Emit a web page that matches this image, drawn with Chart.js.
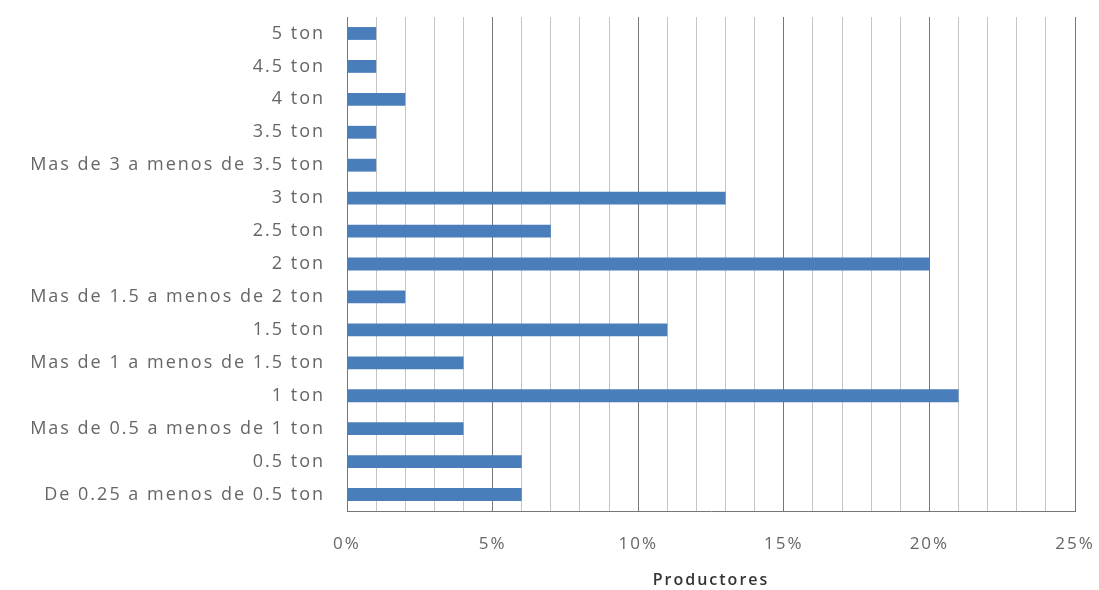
<!DOCTYPE html>
<html>
<head>
<meta charset="utf-8">
<script src="https://cdn.jsdelivr.net/npm/chart.js@4"></script>
<style>
  html, body { margin: 0; padding: 0; background: #fff; }
  #wrap { width: 1099px; height: 590px; position: relative; }
</style>
</head>
<body>
<div id="wrap"><canvas id="chart"></canvas></div>
<script>
const categories = [
  "5 ton",
  "4.5 ton",
  "4 ton",
  "3.5 ton",
  "Mas de 3 a menos de 3.5 ton",
  "3 ton",
  "2.5 ton",
  "2 ton",
  "Mas de 1.5 a menos de 2 ton",
  "1.5 ton",
  "Mas de 1 a menos de 1.5 ton",
  "1 ton",
  "Mas de 0.5 a menos de 1 ton",
  "0.5 ton",
  "De 0.25 a menos de 0.5 ton",
];
const productores = [1, 1, 2, 1, 1, 13, 7, 20, 2, 11, 4, 21, 4, 6, 6];
const xMin = 0;
const xMax = 25;
const xStep = 1;
const xTitle = "Productores";

const fontFamily = "'Open Sans', Lato, sans-serif";

// the source picture is stretched sideways, so widen the text a bit
const wideText = {
  id: "wideText",
  beforeDraw(chart) {
    chart.ctx.letterSpacing = "2px";
  },
};

new Chart(document.getElementById("chart"), {
  type: "bar",
  data: {
    labels: categories,
    datasets: [
      {
        label: xTitle,
        data: productores,
        backgroundColor: "#4a7ebb",
        borderWidth: 0,
        barPercentage: 0.78,
        categoryPercentage: 0.5,
      },
    ],
  },
  options: {
    indexAxis: "y",
    responsive: true,
    maintainAspectRatio: false,
    animation: false,
    layout: { padding: { top: 17, right: 24, left: 0, bottom: 0 } },
    plugins: {
      legend: { display: false },
      tooltip: { enabled: false },
    },
    scales: {
      x: {
        min: xMin,
        max: xMax,
        ticks: {
          stepSize: xStep,
          padding: 23,
          autoSkip: false,
          maxRotation: 0,
          minRotation: 0,
          color: "#666",
          font: { family: fontFamily, size: 17 },
          callback: (v) => (v % 5 === 0 ? v + "%" : ""),
        },
        grid: {
          drawTicks: false,
          color: (ctx) => (ctx.tick && ctx.tick.value % 5 === 0 ? "#777" : "#c4c4c4"),
          lineWidth: 1,
        },
        border: { color: "#777" },
        title: {
          display: true,
          text: xTitle,
          color: "#333",
          font: { family: fontFamily, size: 16, weight: "600" },
          padding: { top: 6, bottom: 0 },
        },
        afterFit: (scale) => {
          scale.height = 79;
          scale.paddingLeft = 0;
          scale.paddingRight = 0;
        },
      },
      y: {
        ticks: {
          padding: 22,
          color: "#666",
          font: { family: fontFamily, size: 18 },
        },
        grid: { display: false, drawTicks: false },
        border: { color: "#777" },
        afterFit: (scale) => {
          scale.width = 347;
          scale.paddingTop = 0;
          scale.paddingBottom = 0;
        },
      },
    },
  },
  plugins: [wideText],
});
</script>
</body>
</html>
